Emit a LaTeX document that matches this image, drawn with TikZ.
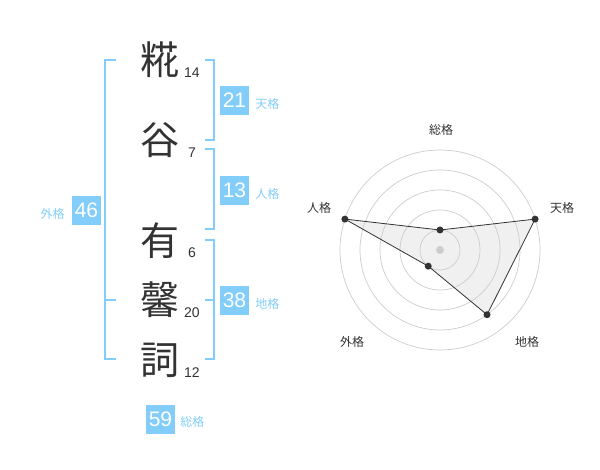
\documentclass[tikz,border=0pt]{standalone}
\usepackage{fontspec}
\setmainfont{Liberation Sans}
\newfontfamily\jpfont{Noto Sans CJK JP}
\usepackage{xcolor}
\usetikzlibrary{positioning}
\definecolor{kakublue}{HTML}{82CDFA}
\definecolor{ink}{HTML}{333333}

\begin{document}
\begin{tikzpicture}[x=1pt,y=-1pt,
    kanji/.style={font=\jpfont\fontsize{39}{39}\selectfont, text=ink, inner sep=0pt},
    strokes/.style={font=\fontsize{14}{14}\selectfont, text=ink, inner sep=0pt},
    kakubox/.style={fill=kakublue, text=white, font=\fontsize{21}{21}\selectfont, minimum size=29pt, inner sep=0pt},
    kakuname/.style={font=\jpfont\fontsize{12}{12}\selectfont, text=kakublue, inner sep=0pt, yshift=-3pt},
    bracket/.style={draw=kakublue, line width=2pt},
    axisname/.style={font=\jpfont\fontsize{12}{12}\selectfont, text=ink, inner sep=0pt},
    ring/.style={draw=black!20, line width=0.7pt},
    vertex/.style={circle, fill=ink, inner sep=0pt, minimum size=7pt}
  ]
  \useasboundingbox (0,0) rectangle (600,470);

  % name
  \node [kanji] (c1) at (160,60) {糀};
  \node [kanji] (c2) at (160,140) {谷};
  \node [kanji] (c3) at (160,241) {有};
  \node [kanji] (c4) at (160,300) {馨};
  \node [kanji] (c5) at (160,360) {詞};
  \node [strokes] (s1) at (192,73) {14};
  \node [strokes] (s2) at (192,153) {7};
  \node [strokes] (s3) at (192,253) {6};
  \node [strokes] (s4) at (192,313) {20};
  \node [strokes] (s5) at (192,373) {12};

  % brackets
  \draw [bracket] (116,60) -| (105,359) -- (116,359);
  \draw [bracket] (105,300) -- (116,300);
  \draw [bracket] (205,60) -| (214,140) -- (205,140);
  \draw [bracket] (205,149) -| (214,229) -- (205,229);
  \draw [bracket] (205,240) -| (214,359) -- (205,359);
  \draw [bracket] (205,300) -- (214,300);

  % kaku
  \node [kakubox] (ten) at (234.5,100.5) {21};
  \node [kakuname, right=6pt of ten] {天格};
  \node [kakubox] (jin) at (234.5,190.5) {13};
  \node [kakuname, right=6pt of jin] {人格};
  \node [kakubox] (chi) at (234.5,300.5) {38};
  \node [kakuname, right=6pt of chi] {地格};
  \node [kakubox] (gai) at (86.5,210.5) {46};
  \node [kakuname, left=7pt of gai] {外格};
  \node [kakubox] (sou) at (160.5,419) {59};
  \node [kakuname, right=5pt of sou] {総格};

  % radar
  \coordinate (radar) at (440,250);
  \coordinate (rSou) at ([shift={(90:20pt)}]radar);
  \coordinate (rTen) at ([shift={(18:100pt)}]radar);
  \coordinate (rChi) at ([shift={(-54:80pt)}]radar);
  \coordinate (rGai) at ([shift={(-126:20pt)}]radar);
  \coordinate (rJin) at ([shift={(162:100pt)}]radar);
  \fill [black!6] (rSou) -- (rTen) -- (rChi) -- (rGai) -- (rJin) -- cycle;
  \foreach \r in {20,40,...,100}
    \draw [ring] (radar) circle (\r pt);
  \fill [black!20] (radar) circle (4pt);
  \draw [ink, line width=0.8pt] (rSou) -- (rTen) -- (rChi) -- (rGai) -- (rJin) -- cycle;
  \foreach \p in {rSou,rTen,rChi,rGai,rJin}
    \node [vertex] at (\p) {};
  \node [axisname] at (441,130) {総格};
  \node [axisname] at (562,208) {天格};
  \node [axisname] at (319,208) {人格};
  \node [axisname] at (352,342) {外格};
  \node [axisname] at (527,342) {地格};
\end{tikzpicture}
\end{document}
